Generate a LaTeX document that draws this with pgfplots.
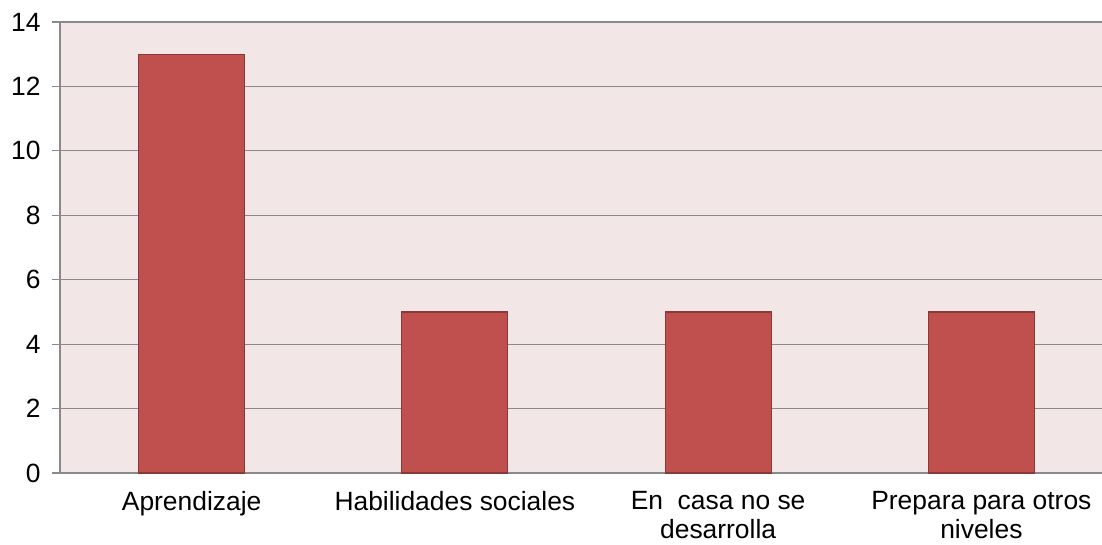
\documentclass[border=0pt]{standalone}
\usepackage{pgfplots}
\pgfplotsset{compat=1.18}
\usepackage{fontspec}
\setmainfont{Liberation Sans}
\definecolor{bgc}{HTML}{F2E7E6}
\definecolor{barc}{HTML}{C0504D}
\definecolor{bare}{HTML}{8C3836}
\definecolor{gridc}{HTML}{8A8A8A}
\begin{document}
\begin{tikzpicture}
\begin{axis}[
  at={(0,0)}, anchor=south west,
  scale only axis,
  width=1053bp, height=451bp,
  xmin=-0.5, xmax=3.5,
  ymin=0, ymax=14,
  ytick={0,2,...,14},
  xtick={0,1,2,3},
  xticklabel style={align=center, yshift=-7bp},
  xticklabels={Aprendizaje,Habilidades sociales,{En\ \ casa no se\\desarrolla},{Prepara para otros\\niveles}},
  yticklabel style={xshift=-8bp},
  font=\fontsize{26.5}{29}\selectfont,
  tick label style={font=\fontsize{26.5}{29}\selectfont},
  /pgf/number format/assume math mode=true,
  axis x line*=bottom,
  axis y line*=left,
  axis line style={draw=gridc, line width=1.5bp},
  ymajorgrids,
  grid style={draw=gridc, line width=1.2bp},
  tick align=outside,
  major tick length=8bp,
  y tick style={draw=gridc, line width=1.2bp},
  x tick style={draw=none},
  extra x ticks={-0.5,0.5,1.5,2.5},
  extra x tick labels={},
  extra x tick style={grid=none, tick style={draw=gridc, line width=1.2bp}},
  axis background/.style={fill=bgc},
  ybar, bar width=106bp,
  clip=false,
]
\addplot[fill=barc, draw=bare, line width=1.2bp] coordinates {(0,13) (1,5) (2,5) (3,5)};
\end{axis}
\pgfresetboundingbox
\useasboundingbox (-60bp,-72bp) rectangle (1042bp,473bp);
\end{tikzpicture}
\end{document}
